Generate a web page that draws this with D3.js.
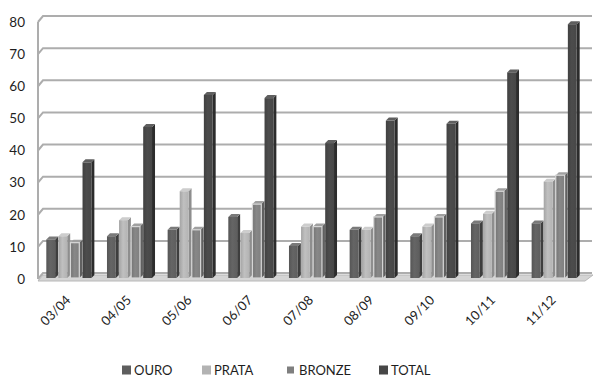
<!DOCTYPE html>
<html>
<head>
<meta charset="utf-8">
<script src="https://cdn.jsdelivr.net/npm/d3@7"></script>
<style>
  html, body { margin: 0; padding: 0; background: #fff; }
  svg { display: block; }
  text { font-family: Lato, "Open Sans", sans-serif; fill: #1e1e1e; }
</style>
</head>
<body>
<svg id="chart" width="594" height="376"></svg>
<script>
// Medal counts per season
const seasons = ["03/04", "04/05", "05/06", "06/07", "07/08", "08/09", "09/10", "10/11", "11/12"];
const seriesNames = ["OURO", "PRATA", "BRONZE", "TOTAL"];
const ouro   = [12, 13, 15, 19, 10, 15, 13, 17, 17];
const prata  = [13, 18, 27, 14, 16, 15, 16, 20, 30];
const bronze = [11, 16, 15, 23, 16, 19, 19, 27, 32];
const total  = [36, 47, 57, 56, 42, 49, 48, 64, 79];
const yTicks = [0, 10, 20, 30, 40, 50, 60, 70, 80];

const seriesValues = [ouro, prata, bronze, total];
const palette = {
  OURO:   { front: "#5e5e5e", side: "#3e3e3e", top: "#7a7a7a", stroke: "none" },
  PRATA:  { front: "#b3b3b3", side: "#8e8e8e", top: "#cdcdcd", stroke: "none" },
  BRONZE: { front: "#7f7f7f", side: "#606060", top: "#a0a0a0", stroke: "#d6d6d6" },
  TOTAL:  { front: "#474747", side: "#2c2c2c", top: "#5f5f5f", stroke: "none" }
};

const svg = d3.select("#chart");

// Front plane geometry and the depth offset for the back wall
const left = 38, right = 585, base = 279, topY = 22;
const wallDx = 5, wallDy = -6;
const barDx = 3, barDy = -3;

const y = d3.scaleLinear().domain([0, 80]).range([base, topY]);
const x = d3.scaleBand().domain(seasons).range([left + 2, right + 1]).paddingInner(0.2).paddingOuter(0.1);
const xs = d3.scaleBand().domain(seriesNames).range([0, x.bandwidth()]).padding(0.02);

// Back wall gridlines with the slanted left side wall
const grid = svg.append("g");
yTicks.forEach(t => {
  const yy = y(t);
  grid.append("path")
    .attr("d", `M${left},${yy} L${left + wallDx},${yy + wallDy} L${right + 7},${yy + wallDy}`)
    .attr("fill", "none")
    .attr("stroke", "#adadad")
    .attr("stroke-width", 2);
});
grid.append("line")
  .attr("x1", left).attr("x2", left)
  .attr("y1", y(80)).attr("y2", base)
  .attr("stroke", "#adadad").attr("stroke-width", 2);

// Floor slab
svg.append("path")
  .attr("d", `M${left},${base + 2} L${right},${base + 2} L${right + 8},${base - 4} L${left + wallDx},${base - 4} Z`)
  .attr("fill", "#d4d4d4")
  .attr("stroke", "#b8b8b8")
  .attr("stroke-width", 1);

// Soft horizontal shading on bar fronts
const defs = svg.append("defs");
seriesNames.forEach(name => {
  const c = palette[name];
  const g = defs.append("linearGradient").attr("id", "grad-" + name)
    .attr("x1", "0%").attr("x2", "100%").attr("y1", "0%").attr("y2", "0%");
  g.append("stop").attr("offset", "0%").attr("stop-color", d3.color(c.front).darker(0.25));
  g.append("stop").attr("offset", "45%").attr("stop-color", d3.color(c.front).brighter(0.2));
  g.append("stop").attr("offset", "100%").attr("stop-color", c.front);
});

// 3D bars: top face, side face and front face
const bars = svg.append("g");
seasons.forEach((s, i) => {
  seriesNames.forEach((name, k) => {
    const v = seriesValues[k][i];
    const c = palette[name];
    const x0 = x(s) + xs(name);
    const w = xs.bandwidth() - barDx;
    const y0 = y(v) - 1;
    const y1 = base - 1;
    const g = bars.append("g");
    g.append("path")
      .attr("d", `M${x0 + w},${y0} L${x0 + w + barDx},${y0 + barDy} L${x0 + w + barDx},${y1 + barDy} L${x0 + w},${y1} Z`)
      .attr("fill", c.side);
    g.append("path")
      .attr("d", `M${x0},${y0} L${x0 + barDx},${y0 + barDy} L${x0 + w + barDx},${y0 + barDy} L${x0 + w},${y0} Z`)
      .attr("fill", c.top);
    g.append("rect")
      .attr("x", x0).attr("y", y0)
      .attr("width", w).attr("height", y1 - y0)
      .attr("fill", `url(#grad-${name})`)
      .attr("stroke", c.stroke)
      .attr("stroke-width", c.stroke === "none" ? 0 : 1.2);
  });
});

// Y axis labels
svg.append("g").selectAll("text").data(yTicks).join("text")
  .attr("x", 25)
  .attr("y", d => y(d))
  .attr("dy", "0.36em")
  .attr("text-anchor", "end")
  .attr("font-size", 13.5)
  .text(d => d);

// Rotated season labels
svg.append("g").selectAll("text").data(seasons).join("text")
  .attr("transform", d => `translate(${x(d) + x.bandwidth() / 2 + 1},${base + 22}) rotate(-45)`)
  .attr("text-anchor", "end")
  .attr("font-size", 13)
  .text(d => d);

// Legend
const legendX = [122, 202, 287, 379];
const legend = svg.append("g");
seriesNames.forEach((name, k) => {
  const gx = legendX[k];
  const sz = name === "BRONZE" ? 7 : 9;
  legend.append("rect")
    .attr("x", gx).attr("y", 370 - sz / 2)
    .attr("width", sz).attr("height", sz)
    .attr("fill", palette[name].front);
  legend.append("text")
    .attr("x", gx + 12)
    .attr("y", 374.5)
    .attr("font-size", 13)
    .text(name);
});
</script>
</body>
</html>
